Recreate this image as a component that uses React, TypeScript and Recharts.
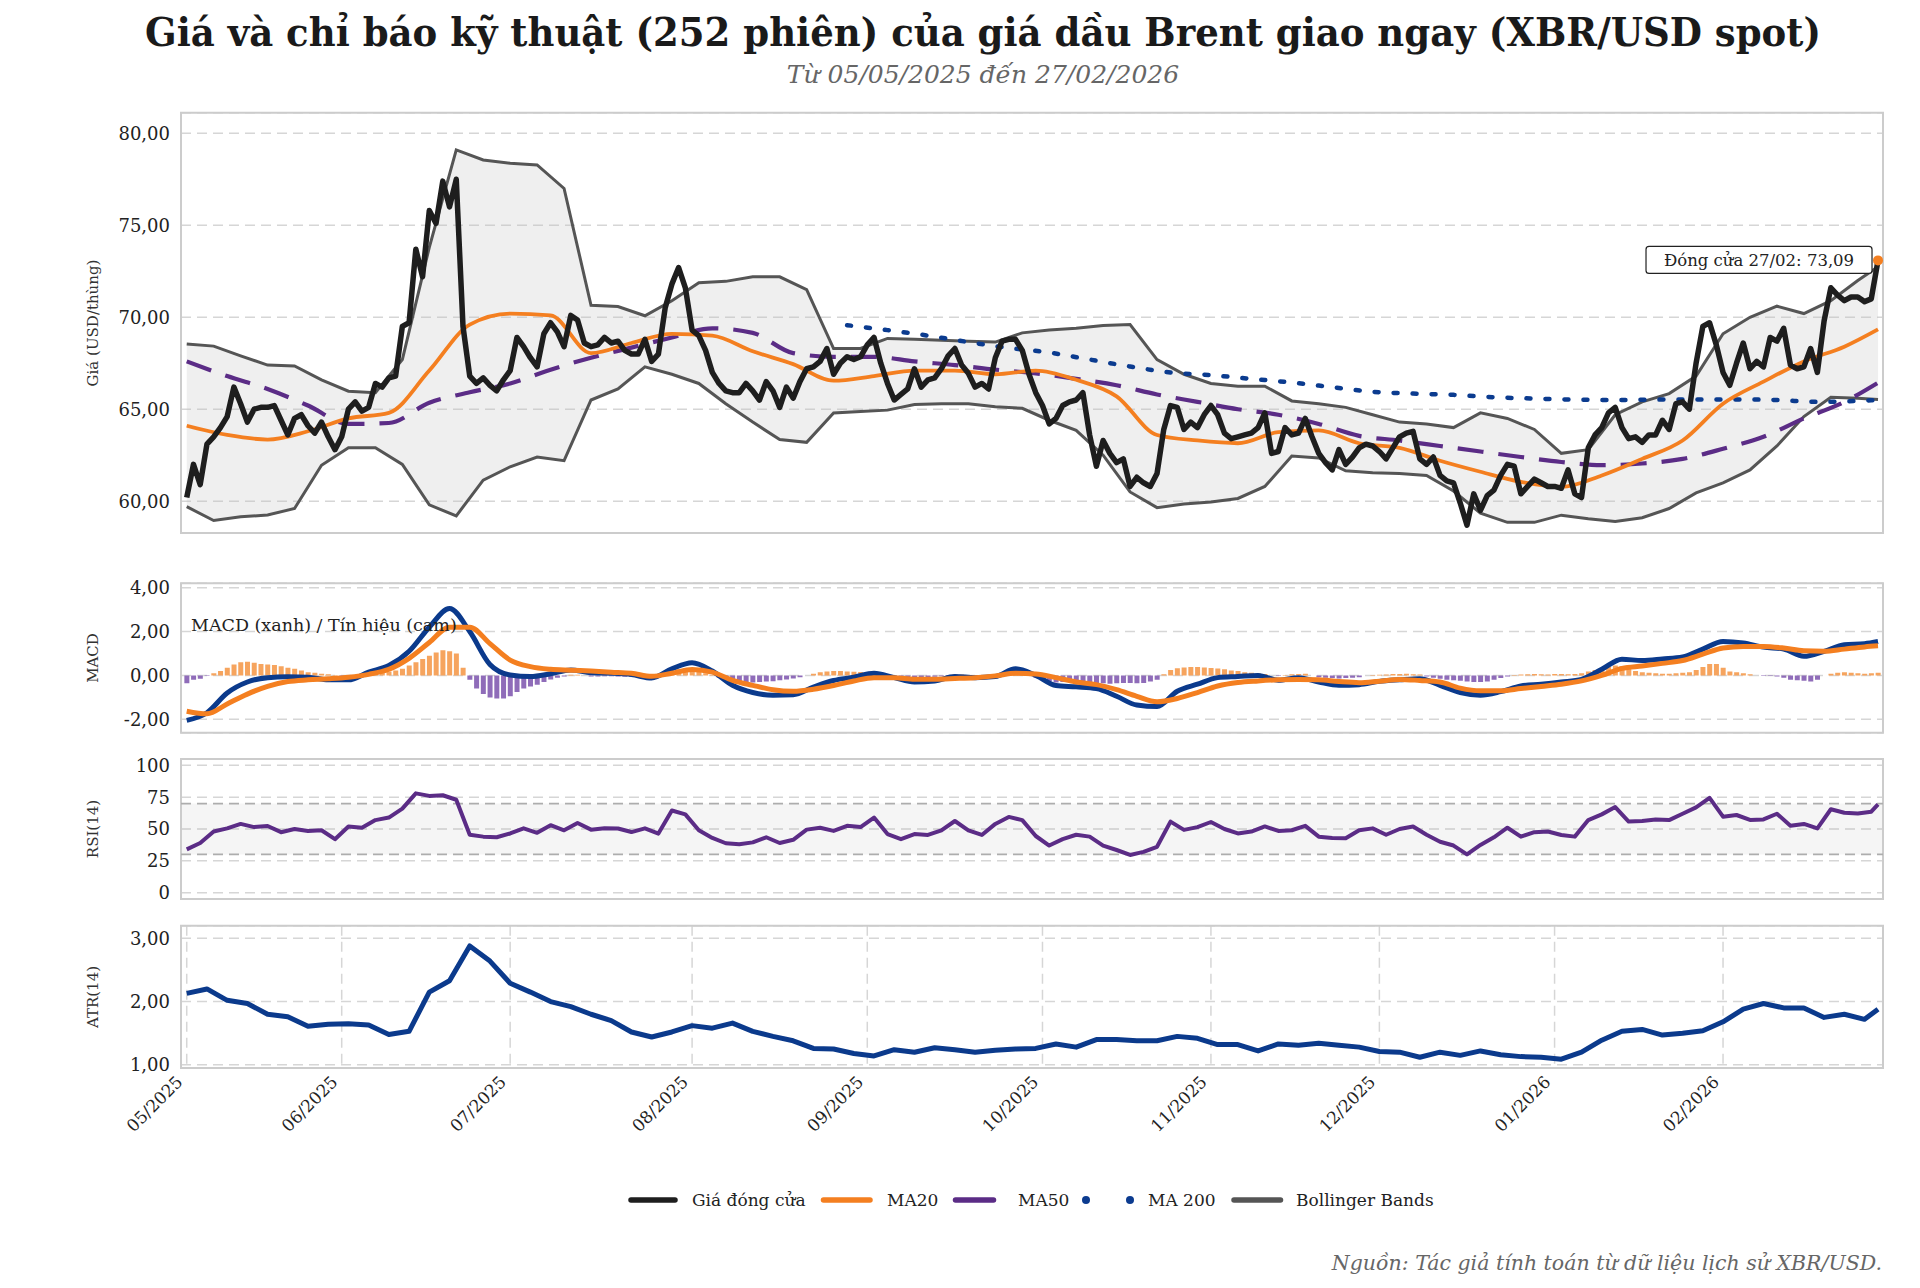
import React from 'react';
import {
  ComposedChart,
  Line,
  Area,
  Bar,
  Cell,
  XAxis,
  YAxis,
  CartesianGrid,
  ReferenceArea,
  ReferenceLine,
  ReferenceDot,
} from 'recharts';

const FONT = "'DejaVu Serif', 'Liberation Serif', serif";

// ---------- data (one value per session unless a step is given) ----------
const SESSIONS = 252;
const LAST = SESSIONS - 1;

const monthTicks = [0, 23, 48, 75, 101, 127, 152, 177, 203, 228];
const monthLabels = ['05/2025', '06/2025', '07/2025', '08/2025', '09/2025', '10/2025', '11/2025', '12/2025', '01/2026', '02/2026'];

const priceTicks = [60, 65, 70, 75, 80];
const macdTicks = [-2, 0, 2, 4];
const rsiTicks = [0, 25, 50, 75, 100];
const atrTicks = [1, 2, 3];

const closePrice = [
  60.2, 62.0, 60.9, 63.1, 63.5, 64.0, 64.6, 66.2, 65.3, 64.3,
  65.0, 65.1, 65.1, 65.2, 64.4, 63.6, 64.5, 64.7, 64.1, 63.7,
  64.3, 63.5, 62.8, 63.5, 65.0, 65.4, 64.9, 65.1, 66.4, 66.2,
  66.7, 66.8, 69.5, 69.7, 73.7, 72.2, 75.8, 75.1, 77.4, 76.0,
  77.5, 69.5, 66.8, 66.4, 66.7, 66.3, 66.0, 66.6, 67.1, 68.9,
  68.4, 67.8, 67.3, 69.1, 69.7, 69.2, 68.4, 70.1, 69.85, 68.6,
  68.4, 68.5, 68.9, 68.6, 68.7, 68.2, 68.0, 68.0, 68.8, 67.6,
  68.0, 70.5, 71.8, 72.7, 71.6, 69.3, 69.0, 68.2, 67.0, 66.4,
  66.0, 65.9, 65.9, 66.4, 66.0, 65.5, 66.5, 66.0, 65.1, 66.2,
  65.6, 66.5, 67.2, 67.3, 67.6, 68.3, 66.9, 67.5, 67.85, 67.7,
  67.85, 68.5, 68.9, 67.5, 66.4, 65.5, 65.8, 66.1, 67.2, 66.2,
  66.6, 66.7, 67.2, 67.9, 68.3, 67.4, 66.95, 66.2, 66.4, 66.1,
  67.8, 68.7, 68.8, 68.8, 68.2, 66.9, 65.9, 65.2, 64.2, 64.5,
  65.2, 65.4, 65.5, 65.9, 63.6, 61.9, 63.3, 62.6, 62.1, 62.3,
  60.8, 61.3, 61.0, 60.8, 61.5, 63.9, 65.2, 65.1, 63.9, 64.3,
  64.0, 64.7, 65.2, 64.7, 63.7, 63.4, 63.5, 63.6, 63.7, 64.0,
  64.8, 62.6, 62.7, 64.0, 63.6, 63.7, 64.5, 63.5, 62.6, 62.1,
  61.7, 62.8, 62.0, 62.4, 62.9, 63.1, 63.0, 62.7, 62.3, 62.9,
  63.5, 63.7, 63.8, 62.3, 62.0, 62.4, 61.4, 61.1, 61.0, 59.9,
  58.7, 60.4, 59.5, 60.3, 60.6, 61.4, 62.0, 61.9, 60.4, 60.8,
  61.2, 61.0, 60.8, 60.8, 60.7, 61.7, 60.4, 60.2, 62.9, 63.6,
  64.0, 64.8, 65.1, 64.0, 63.4, 63.5, 63.2, 63.6, 63.6, 64.4,
  63.9, 65.3, 65.4, 65.0, 67.5, 69.5, 69.7, 68.5, 67.0, 66.3,
  67.5, 68.6, 67.2, 67.6, 67.3, 68.9, 68.7, 69.4, 67.4, 67.2,
  67.3, 68.3, 67.0, 69.8, 71.6, 71.2, 70.9, 71.1, 71.1, 70.85,
  71.0, 73.09,
];

// every 6 sessions, last value = final session
const ma20 = [
  64.1, 63.6, 63.35, 63.8, 64.5, 64.8, 67.1, 69.6, 70.2, 70.1,
  68.05, 68.6, 69.1, 69.0, 68.15, 67.45, 66.55, 66.8, 67.1, 67.1,
  66.9, 67.1, 66.6, 65.7, 63.6, 63.3, 63.15, 63.75, 63.85, 63.15,
  62.9, 62.2, 61.6, 61.05, 60.78, 61.4, 62.3, 63.3, 65.3, 66.5,
  67.6, 68.4, 69.34,
];
const ma50 = [
  67.6, 66.8, 66.1, 65.2, 64.2, 64.25, 65.35, 65.92, 66.4, 67.15,
  67.8, 68.35, 68.9, 69.4, 69.15, 68.05, 67.85, 67.85, 67.6, 67.4,
  67.15, 66.95, 66.65, 66.3, 65.8, 65.4, 65.0, 64.7, 64.2, 63.55,
  63.3, 63.0, 62.7, 62.4, 62.13, 61.96, 62.05, 62.3, 62.85, 63.5,
  64.5, 65.4, 66.44,
];
// starts at session 98, every 6 sessions
const ma200 = [
  69.57, 69.3, 69.0, 68.65, 68.33, 68.08, 67.7, 67.32, 67.0, 66.85,
  66.65, 66.45, 66.2, 65.95, 65.85, 65.78, 65.65, 65.58, 65.52, 65.5,
  65.52, 65.53, 65.53, 65.5, 65.4, 65.45, 65.5,
];
// every 4 sessions
const bbUpper = [
  68.55, 68.43, 67.9, 67.4, 67.35, 66.6, 65.98, 65.9, 67.7, 73.8,
  79.1, 78.55, 78.37, 78.28, 77.0, 70.65, 70.58, 70.08, 70.9, 71.88,
  71.95, 72.2, 72.2, 71.5, 68.3, 68.3, 68.85, 68.8, 68.75, 68.7,
  68.65, 69.15, 69.3, 69.4, 69.55, 69.6, 67.7, 66.9, 66.4, 66.25,
  66.25, 65.45, 65.3, 65.1, 64.7, 64.3, 64.2, 64.0, 64.8, 64.5,
  63.9, 62.6, 62.8, 64.7, 65.4, 65.85, 66.8, 69.1, 70.0, 70.6,
  70.2, 70.9, 72.0, 72.75,
];
const bbLower = [
  59.7, 58.95, 59.15, 59.25, 59.6, 61.95, 62.9, 62.9, 62.0, 59.8,
  59.2, 61.14, 61.87, 62.4, 62.2, 65.5, 66.1, 67.3, 66.9, 66.4,
  65.3, 64.3, 63.35, 63.2, 64.8, 64.88, 64.95, 65.25, 65.3, 65.3,
  65.13, 65.05, 64.4, 63.85, 62.5, 60.5, 59.65, 59.85, 59.95, 60.15,
  60.8, 62.45, 62.35, 61.65, 61.55, 61.5, 61.4, 60.55, 59.35, 58.85,
  58.85, 59.24, 59.05, 58.9, 59.1, 59.6, 60.45, 61.0, 61.7, 63.0,
  64.6, 65.65, 65.6, 65.53,
];
// every 3 sessions
const macdLine = [
  -2.05, -1.7, -0.8, -0.3, -0.1, -0.06, -0.08, -0.2, -0.2, 0.15,
  0.45, 1.1, 2.2, 3.05, 2.0, 0.5, 0.02, -0.05, 0.08, 0.25,
  0.12, 0.1, 0.04, -0.12, 0.3, 0.58, 0.2, -0.45, -0.78, -0.9,
  -0.88, -0.53, -0.23, -0.08, 0.1, -0.1, -0.3, -0.25, -0.05, -0.1,
  -0.05, 0.3, 0.0, -0.46, -0.52, -0.6, -0.95, -1.35, -1.42, -0.72,
  -0.4, -0.1, -0.05, 0.0, -0.22, -0.1, -0.3, -0.45, -0.42, -0.27,
  -0.2, -0.15, -0.45, -0.78, -0.9, -0.74, -0.48, -0.4, -0.3, -0.18,
  0.28, 0.74, 0.68, 0.75, 0.84, 1.2, 1.55, 1.48, 1.29, 1.2,
  0.87, 1.1, 1.4, 1.45, 1.55,
];
const signalLine = [
  -1.63, -1.75, -1.3, -0.85, -0.5, -0.28, -0.2, -0.15, -0.08, 0.05,
  0.28, 0.78, 1.5, 2.2, 2.2, 1.45, 0.7, 0.4, 0.28, 0.24,
  0.2, 0.15, 0.1, -0.04, 0.1, 0.27, 0.15, -0.22, -0.45, -0.65,
  -0.72, -0.63, -0.46, -0.25, -0.1, -0.1, -0.17, -0.17, -0.14, -0.1,
  -0.02, 0.1, 0.07, -0.1, -0.3, -0.42, -0.65, -0.95, -1.2, -1.05,
  -0.78, -0.48, -0.32, -0.25, -0.2, -0.18, -0.2, -0.28, -0.33, -0.26,
  -0.18, -0.23, -0.3, -0.58, -0.7, -0.7, -0.6, -0.5, -0.4, -0.25,
  0.0, 0.32, 0.43, 0.55, 0.68, 0.97, 1.25, 1.32, 1.32, 1.25,
  1.12, 1.1, 1.2, 1.3, 1.35,
];
const macdHist = [
  -0.36, -0.2, -0.15, -0.02, 0.1, 0.2, 0.35, 0.5, 0.6, 0.62,
  0.58, 0.52, 0.5, 0.48, 0.42, 0.35, 0.3, 0.22, 0.15, 0.12,
  0.08, 0.05, 0.02, -0.05, -0.06, -0.03, 0.02, 0.08, 0.1, 0.15,
  0.18, 0.22, 0.3, 0.45, 0.6, 0.75, 0.9, 1.05, 1.15, 1.1,
  1.0, 0.35, -0.2, -0.6, -0.85, -1.0, -1.05, -1.05, -0.95, -0.75,
  -0.6, -0.5, -0.42, -0.3, -0.18, -0.1, -0.05, 0.03, 0.03, 0.0,
  -0.05, -0.05, -0.04, -0.04, -0.05, -0.06, -0.06, -0.08, -0.1, -0.08,
  0.0, 0.12, 0.2, 0.28, 0.32, 0.3, 0.22, 0.1, 0.02, -0.1,
  -0.2, -0.25, -0.3, -0.32, -0.32, -0.3, -0.28, -0.26, -0.22, -0.18,
  -0.14, -0.08, 0.0, 0.08, 0.14, 0.18, 0.2, 0.2, 0.18, 0.17,
  0.16, 0.15, 0.14, 0.08, 0.02, -0.03, -0.08, -0.1, -0.1, -0.08,
  -0.07, -0.06, -0.04, -0.02, 0.05, 0.04, 0.0, -0.03, -0.05, 0.0,
  0.05, 0.1, 0.15, 0.18, 0.12, 0.0, -0.1, -0.2, -0.28, -0.32,
  -0.3, -0.28, -0.27, -0.27, -0.3, -0.34, -0.36, -0.38, -0.36, -0.35,
  -0.35, -0.36, -0.34, -0.28, -0.2, 0.05, 0.25, 0.33, 0.36, 0.38,
  0.38, 0.36, 0.34, 0.32, 0.28, 0.22, 0.2, 0.15, 0.12, 0.1,
  0.06, 0.0, -0.03, 0.02, 0.05, 0.06, 0.08, 0.0, -0.08, -0.1,
  -0.12, -0.14, -0.12, -0.1, -0.08, 0.0, 0.02, 0.03, 0.04, 0.06,
  0.06, 0.08, 0.05, 0.04, -0.05, -0.1, -0.15, -0.2, -0.22, -0.24,
  -0.28, -0.3, -0.3, -0.28, -0.2, -0.12, -0.05, 0.02, 0.04, 0.05,
  0.06, 0.05, 0.04, 0.06, 0.07, 0.05, 0.06, 0.1, 0.18, 0.25,
  0.3, 0.38, 0.45, 0.42, 0.3, 0.2, 0.15, 0.12, 0.1, 0.08,
  0.08, 0.1, 0.12, 0.15, 0.25, 0.38, 0.52, 0.52, 0.35, 0.18,
  0.15, 0.1, 0.05, 0.0, -0.03, -0.03, -0.05, -0.1, -0.2, -0.22,
  -0.24, -0.28, -0.2, 0.0, 0.08, 0.12, 0.14, 0.12, 0.1, 0.08,
  0.1, 0.12,
];
// every 2 sessions
const rsi14 = [
  34.0, 39.0, 48.0, 50.5, 54.0, 51.5, 52.4, 47.5, 50.0, 48.5,
  49.0, 42.0, 52.0, 51.0, 57.0, 59.0, 66.0, 78.0, 76.0, 76.5,
  73.0, 45.5, 44.0, 43.5, 46.5, 50.5, 47.0, 53.0, 49.0, 54.7,
  49.5, 50.5, 50.4, 47.6, 50.5, 46.4, 64.5, 61.5, 49.0, 43.0,
  38.8, 38.0, 39.5, 43.5, 39.0, 41.5, 49.5, 51.0, 48.5, 52.5,
  51.5, 59.0, 46.0, 42.0, 46.0, 45.3, 49.0, 56.3, 49.0, 45.3,
  54.0, 59.5, 57.0, 44.5, 37.0, 42.0, 45.5, 44.0, 36.9, 33.5,
  29.6, 32.0, 36.0, 55.8, 49.3, 51.5, 55.5, 50.0, 46.5, 48.0,
  52.0, 48.5, 49.0, 52.5, 44.0, 43.0, 42.7, 49.0, 50.5, 45.5,
  50.0, 52.0, 45.5, 40.0, 37.0, 30.0, 37.5, 43.5, 51.0, 44.0,
  47.5, 48.0, 45.3, 44.0, 57.0, 61.5, 67.2, 55.8, 56.3, 57.5,
  57.0, 62.0, 67.0, 74.5, 59.7, 61.0, 57.1, 57.5, 62.0, 52.5,
  54.0, 50.5, 65.5, 62.8, 62.1, 63.6, 69.4,
];
// every 3 sessions
const atr14 = [
  2.13, 2.2, 2.02, 1.97, 1.8, 1.76, 1.61, 1.64, 1.65, 1.63,
  1.48, 1.53, 2.15, 2.33, 2.88, 2.64, 2.29, 2.15, 2.0, 1.92,
  1.8, 1.7, 1.52, 1.44, 1.52, 1.62, 1.58, 1.66, 1.53, 1.45,
  1.38, 1.26, 1.25, 1.18, 1.14, 1.24, 1.2, 1.27, 1.24, 1.2,
  1.23, 1.25, 1.26, 1.33, 1.28, 1.4, 1.4, 1.38, 1.38, 1.45,
  1.42, 1.32, 1.32, 1.22, 1.33, 1.31, 1.34, 1.31, 1.28, 1.21,
  1.2, 1.12, 1.2, 1.15, 1.22, 1.16, 1.13, 1.12, 1.09, 1.2,
  1.39, 1.53, 1.56, 1.47, 1.5, 1.54, 1.68, 1.88, 1.97, 1.9,
  1.9, 1.75, 1.8, 1.72, 1.88,
];

// ---------- table ----------
type Row = { i: number; [key: string]: any };
const rows: Row[] = closePrice.map((c, i) => ({ i, close: c, hist: macdHist[i] }));
const put = (key: string, values: number[], step: number, start = 0) =>
  values.forEach((v, k) => {
    rows[k === values.length - 1 ? LAST : start + k * step][key] = v;
  });
put('ma20', ma20, 6);
put('ma50', ma50, 6);
put('ma200', ma200, 6, 98);
put('bbUp', bbUpper, 4);
put('bbLo', bbLower, 4);
put('macd', macdLine, 3);
put('signal', signalLine, 3);
put('rsi', rsi14, 2);
put('atr', atr14, 3);
rows.forEach((r) => {
  if (r.bbUp != null) r.bb = [r.bbLo, r.bbUp];
});

// ---------- styling ----------
const W = 1920;
const X_DOMAIN: [number, number] = [-0.85, 251.74];
const PRICE_DOMAIN: [number, number] = [58.27, 81.12];
const MACD_DOMAIN: [number, number] = [-2.61, 4.2];
const RSI_DOMAIN: [number, number] = [-5, 105];
const ATR_DOMAIN: [number, number] = [0.95, 3.2];

const C = {
  close: '#1e1e1e',
  ma20: '#f47f20',
  ma50: '#5b2c86',
  ma200: '#0b3b8f',
  band: '#555555',
  macd: '#0b3a8c',
  grid: '#d6d6d6',
  frame: '#cccccc',
};

const tickStyle = { fontSize: 18, fill: '#222', fontFamily: FONT };
const comma = (d: number) => (v: number) => v.toFixed(d).replace('.', ',');
const margin = (top: number, bottom: number) => ({ top, bottom, left: 0, right: W - 1883 });

const xAxisHidden = (
  <XAxis
    dataKey="i"
    type="number"
    domain={X_DOMAIN}
    ticks={monthTicks}
    allowDataOverflow
    height={0}
    tick={false}
    axisLine={false}
    tickLine={false}
  />
);

const yAxis = (domain: [number, number], ticks: number[], fmt: (v: number) => string) => (
  <YAxis
    type="number"
    domain={domain}
    ticks={ticks}
    allowDataOverflow
    width={181}
    tick={tickStyle}
    tickFormatter={fmt}
    axisLine={false}
    tickLine={false}
    tickSize={0}
    tickMargin={11}
    interval={0}
  />
);

const grid = <CartesianGrid stroke={C.grid} strokeWidth={1.5} strokeDasharray="10 6" />;
const frame = (domain: [number, number]) => (
  <ReferenceArea
    x1={X_DOMAIN[0]}
    x2={X_DOMAIN[1]}
    y1={domain[0]}
    y2={domain[1]}
    fill="none"
    fillOpacity={0}
    stroke={C.frame}
    strokeWidth={2}
  />
);

const MonthTick = (props: any) => {
  const { x, y, payload } = props;
  const label = monthLabels[monthTicks.indexOf(payload.value)];
  const ax = x - 3;
  const ay = y + 15;
  return (
    <text
      x={ax}
      y={ay}
      transform={`rotate(-45, ${ax}, ${ay})`}
      textAnchor="end"
      fontSize={17}
      fill="#222"
      fontFamily={FONT}
    >
      {label}
    </text>
  );
};

const CloseCallout = (props: any) => {
  const { cx, cy } = props;
  return (
    <g>
      <rect x={cx - 232} y={cy - 14} width={226} height={27} rx={3} fill="#fff" stroke="#222" strokeWidth={1.2} />
      <text x={cx - 119} y={cy + 5.5} textAnchor="middle" fontSize={16.5} fill="#222" fontFamily={FONT}>
        {`Đóng cửa 27/02: ${closePrice[LAST].toFixed(2).replace('.', ',')}`}
      </text>
    </g>
  );
};

const legendItems = [
  { label: 'Giá đóng cửa', color: C.close, x1: 631, x2: 675, tx: 692, kind: 'solid' },
  { label: 'MA20', color: C.ma20, x1: 823.5, x2: 870, tx: 887, kind: 'solid' },
  { label: 'MA50', color: C.ma50, x1: 955.5, x2: 993.5, tx: 1018, kind: 'solid' },
  { label: 'MA 200', color: C.ma200, x1: 1086, x2: 1130, tx: 1148, kind: 'dots' },
  { label: 'Bollinger Bands', color: C.band, x1: 1234, x2: 1280.5, tx: 1296, kind: 'solid' },
];

const yTitles = [
  { text: 'Giá (USD/thùng)', cy: 323 },
  { text: 'MACD', cy: 658 },
  { text: 'RSI(14)', cy: 829 },
  { text: 'ATR(14)', cy: 997 },
];

export default function App() {
  return (
    <div style={{ position: 'absolute', left: 0, top: 0, width: W, height: 1288, background: '#fff', overflow: 'hidden' }}>
      {/* Price panel */}
      <div style={{ position: 'absolute', left: 0, top: 100 }}>
        <ComposedChart width={W} height={450} data={rows} margin={margin(12.7, 17)}>
          {grid}
          {xAxisHidden}
          {yAxis(PRICE_DOMAIN, priceTicks, comma(2))}
          <Area
            dataKey="bb"
            type="linear"
            stroke="none"
            fill="#bfbfbf"
            fillOpacity={0.25}
            connectNulls
            isAnimationActive={false}
            activeDot={false}
          />
          <Line dataKey="bbUp" type="linear" stroke={C.band} strokeWidth={3} dot={false} activeDot={false} connectNulls isAnimationActive={false} />
          <Line dataKey="bbLo" type="linear" stroke={C.band} strokeWidth={3} dot={false} activeDot={false} connectNulls isAnimationActive={false} />
          <Line
            dataKey="ma200"
            type="monotone"
            stroke={C.ma200}
            strokeWidth={4.5}
            strokeDasharray="4 15"
            strokeLinecap="round"
            dot={false}
            activeDot={false}
            connectNulls
            isAnimationActive={false}
          />
          <Line
            dataKey="ma50"
            type="monotone"
            stroke={C.ma50}
            strokeWidth={4.2}
            strokeDasharray="26 15"
            dot={false}
            activeDot={false}
            connectNulls
            isAnimationActive={false}
          />
          <Line dataKey="ma20" type="monotone" stroke={C.ma20} strokeWidth={3.8} dot={false} activeDot={false} connectNulls isAnimationActive={false} />
          <Line
            dataKey="close"
            type="linear"
            stroke={C.close}
            strokeWidth={5.5}
            strokeLinejoin="round"
            dot={false}
            activeDot={false}
            isAnimationActive={false}
          />
          <ReferenceDot x={LAST} y={closePrice[LAST]} r={5} fill={C.ma20} stroke="none" />
          <ReferenceDot x={LAST} y={closePrice[LAST]} r={0} shape={(p: any) => <CloseCallout {...p} />} />
          {frame(PRICE_DOMAIN)}
        </ComposedChart>
      </div>

      {/* MACD panel */}
      <div style={{ position: 'absolute', left: 0, top: 570 }}>
        <ComposedChart width={W} height={175} data={rows} margin={margin(13.3, 12.3)}>
          {grid}
          {xAxisHidden}
          {yAxis(MACD_DOMAIN, macdTicks, comma(2))}
          <Bar dataKey="hist" barSize={5} isAnimationActive={false}>
            {rows.map((r) => (
              <Cell key={r.i} fill={r.hist >= 0 ? '#f6a45e' : '#8f6cb9'} />
            ))}
          </Bar>
          <Line dataKey="macd" type="monotone" stroke={C.macd} strokeWidth={5} dot={false} activeDot={false} connectNulls isAnimationActive={false} />
          <Line dataKey="signal" type="monotone" stroke={C.ma20} strokeWidth={5} dot={false} activeDot={false} connectNulls isAnimationActive={false} />
          {frame(MACD_DOMAIN)}
        </ComposedChart>
      </div>

      {/* RSI panel */}
      <div style={{ position: 'absolute', left: 0, top: 750 }}>
        <ComposedChart width={W} height={160} data={rows} margin={margin(9, 11)}>
          {grid}
          {xAxisHidden}
          {yAxis(RSI_DOMAIN, rsiTicks, (v: number) => String(v))}
          <ReferenceArea x1={X_DOMAIN[0]} x2={X_DOMAIN[1]} y1={30} y2={70} fill="#000" fillOpacity={0.04} stroke="none" />
          <ReferenceLine y={70} stroke="#adadad" strokeWidth={1.8} strokeDasharray="10 6" />
          <ReferenceLine y={30} stroke="#adadad" strokeWidth={1.8} strokeDasharray="10 6" />
          <Line dataKey="rsi" type="linear" stroke={C.ma50} strokeWidth={4} strokeLinejoin="round" dot={false} activeDot={false} connectNulls isAnimationActive={false} />
          {frame(RSI_DOMAIN)}
        </ComposedChart>
      </div>

      {/* ATR panel + month axis */}
      <div style={{ position: 'absolute', left: 0, top: 915 }}>
        <ComposedChart width={W} height={240} data={rows} margin={margin(10.7, 0)}>
          {grid}
          <XAxis
            dataKey="i"
            type="number"
            domain={X_DOMAIN}
            ticks={monthTicks}
            allowDataOverflow
            interval={0}
            height={87}
            axisLine={false}
            tickLine={false}
            tickSize={0}
            tickMargin={0}
            tick={<MonthTick />}
          />
          {yAxis(ATR_DOMAIN, atrTicks, comma(2))}
          <Line dataKey="atr" type="linear" stroke={C.macd} strokeWidth={5} strokeLinejoin="round" dot={false} activeDot={false} connectNulls isAnimationActive={false} />
          {frame(ATR_DOMAIN)}
        </ComposedChart>
      </div>

      {/* titles, axis titles, legend, source */}
      <svg width={W} height={1288} style={{ position: 'absolute', left: 0, top: 0, pointerEvents: 'none' }} fontFamily={FONT}>
        <text
          x={983}
          y={46}
          textAnchor="middle"
          fontSize={39}
          fontWeight="bold"
          fill="#1a1a1a"
          textLength={1676}
          lengthAdjust="spacingAndGlyphs"
        >
          {`Giá và chỉ báo kỹ thuật (${SESSIONS} phiên) của giá dầu Brent giao ngay (XBR/USD spot)`}
        </text>
        <text x={983} y={83} textAnchor="middle" fontSize={25} fontStyle="italic" fill="#666">
          Từ 05/05/2025 đến 27/02/2026
        </text>
        {yTitles.map((t) => (
          <text key={t.text} x={98} y={t.cy} transform={`rotate(-90, 98, ${t.cy})`} textAnchor="middle" fontSize={15} fill="#333">
            {t.text}
          </text>
        ))}
        <text x={191} y={631} fontSize={17.5} fill="#222">
          MACD (xanh) / Tín hiệu (cam)
        </text>
        {legendItems.map((it) => (
          <g key={it.label}>
            {it.kind === 'dots' ? (
              <>
                <circle cx={it.x1} cy={1200} r={4} fill={it.color} />
                <circle cx={it.x2} cy={1200} r={4} fill={it.color} />
              </>
            ) : (
              <line x1={it.x1} x2={it.x2} y1={1200} y2={1200} stroke={it.color} strokeWidth={5.5} strokeLinecap="round" />
            )}
            <text x={it.tx} y={1206} fontSize={17} fill="#222">
              {it.label}
            </text>
          </g>
        ))}
        <text x={1882} y={1270} textAnchor="end" fontSize={20.5} fontStyle="italic" fill="#666">
          Nguồn: Tác giả tính toán từ dữ liệu lịch sử XBR/USD.
        </text>
      </svg>
    </div>
  );
}
